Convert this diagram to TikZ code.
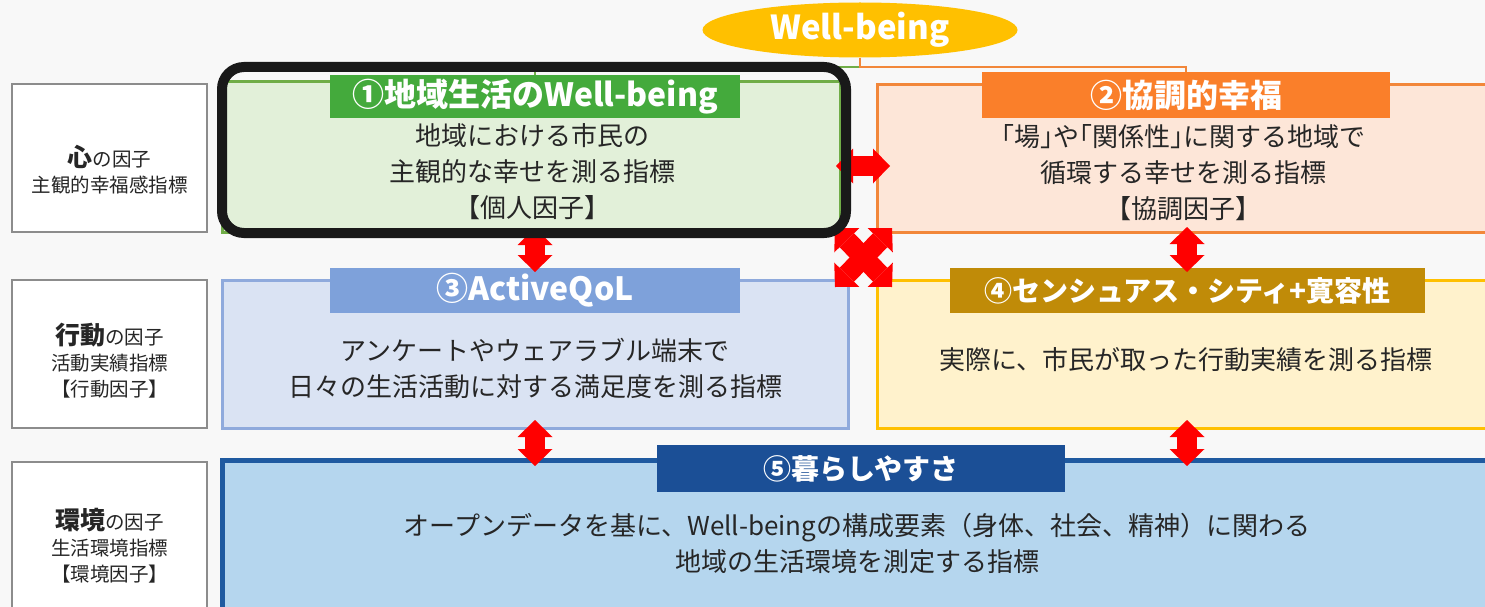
\documentclass[tikz,border=0pt]{standalone}
\usepackage{fontspec}
\setmainfont{Noto Sans CJK JP}
\usetikzlibrary{arrows.meta,shapes.geometric,calc}
\definecolor{bgc}{HTML}{F8F8F8}
\definecolor{grnH}{HTML}{44AA3C}
\definecolor{grnB}{HTML}{70AD47}
\definecolor{grnF}{HTML}{E2F0D9}
\definecolor{orgH}{HTML}{FA7F2A}
\definecolor{orgB}{HTML}{F2873A}
\definecolor{orgF}{HTML}{FDE6D8}
\definecolor{bluH}{HTML}{7EA1DA}
\definecolor{bluB}{HTML}{8FAADC}
\definecolor{bluF}{HTML}{DAE3F3}
\definecolor{yelH}{HTML}{C08B08}
\definecolor{yelB}{HTML}{FFC000}
\definecolor{yelF}{HTML}{FFF2CC}
\definecolor{navH}{HTML}{1B4F96}
\definecolor{navB}{HTML}{1F5AA0}
\definecolor{navF}{HTML}{B5D6EE}
\definecolor{labB}{HTML}{8C8C8C}
\definecolor{txt}{HTML}{262626}
\definecolor{arr}{HTML}{FF0000}
\newcommand\hb[1]{{\addfontfeatures{RawFeature=+halt}#1}}
\begin{document}
\begin{tikzpicture}[x=1pt,y=-1pt,
  panel/.style={rectangle,inner sep=0pt,line width=3pt},
  labbox/.style={rectangle,inner sep=0pt,draw=labB,line width=2.5pt,fill=white,minimum width=195pt},
  hdr/.style={rectangle,inner sep=0pt,text=white,font=\bfseries\fontsize{32}{36}\selectfont},
  hdrs/.style={hdr,font=\bfseries\fontsize{28}{36}\selectfont},
  body/.style={align=center,text=txt,font=\fontsize{26}{36}\selectfont,inner sep=0pt},
  lab/.style={align=center,text=txt,font=\fontsize{19.5}{26}\selectfont,inner sep=0pt},
  blk/.style={draw=arr,line width=20pt,
    {Triangle[width=35pt,length=17pt,line width=0pt]}-{Triangle[width=35pt,length=17pt,line width=0pt]}},
  link/.style={line width=2pt}
]
\clip (0,0) rectangle (1485,607);
\fill[bgc] (0,0) rectangle (1485,607);

% left label boxes
\node[labbox,minimum height=148pt] (l1) at (109.5,158) {};
\node[labbox,minimum height=148pt] (l2) at (109.5,354) {};
\node[labbox,minimum height=166pt] (l3) at (109.5,545) {};

% main panels
\node[panel,draw=grnB,fill=grnF,minimum width=618pt,minimum height=150pt] (b1) at (531,157) {};
\node[panel,draw=orgB,fill=orgF,minimum width=628pt,minimum height=147pt] (b2) at (1191,158.5) {};
\node[panel,draw=bluB,fill=bluF,minimum width=626pt,minimum height=148pt] (b3) at (535,354) {};
\node[panel,draw=yelB,fill=yelF,minimum width=628pt,minimum height=148pt] (b4) at (1191,354) {};
\node[panel,draw=navB,fill=navF,line width=5pt,minimum width=1283pt,minimum height=165pt] (b5) at (863.5,542.5) {};

% headers
\node[hdr,fill=grnH,minimum width=410pt,minimum height=43pt] (h1) at (535,96.5) {①地域生活のWell-being};
\node[hdr,fill=orgH,minimum width=408pt,minimum height=46pt] (h2) at (1186,95) {②協調的幸福};
\node[hdr,fill=bluH,minimum width=410pt,minimum height=45pt] (h3) at (535,290.5) {③ActiveQoL};
\node[hdrs,fill=yelH,minimum width=475pt,minimum height=45pt] (h4) at (1187.5,290.5) {④センシュアス・シティ+寛容性};
\node[hdrs,fill=navH,minimum width=408pt,minimum height=47pt] (h5) at (861,468.5) {⑤暮らしやすさ};

% Well-being ellipse and its links
\node[ellipse,fill=yelB,inner sep=0pt,minimum width=315pt,minimum height=55pt,
      text=white,font=\bfseries\fontsize{33}{34}\selectfont] (wb) at (860,30) {Well-being};
\coordinate (wbj) at (860,67);
\draw[link,draw=grnB] (wbj) -| (h1.north);
\draw[link,draw=orgB] (wb.south) -- (wbj) -| (h2.north);

% red block arrows
\coordinate (a13s) at (535,228);  \coordinate (a13e) at (535,272);
\coordinate (a35s) at (535,420);  \coordinate (a35e) at (535,466);
\coordinate (a24s) at (1187,227); \coordinate (a24e) at (1187,272);
\coordinate (a45s) at (1187,420); \coordinate (a45e) at (1187,466);
\coordinate (a12s) at (836,166);  \coordinate (a12e) at (890,166);
\coordinate (x1s) at (835,228);   \coordinate (x1e) at (892,287);
\coordinate (x2s) at (892,228);   \coordinate (x2e) at (835,287);
\draw[blk] (a13s) -- (a13e);
\draw[blk] (a35s) -- (a35e);
\draw[blk] (a24s) -- (a24e);
\draw[blk] (a45s) -- (a45e);
\draw[blk] (a12s) -- (a12e);
\draw[blk] (x1s) -- (x1e);
\draw[blk] (x2s) -- (x2e);

% highlight frame
\node[draw=black!90,line width=10pt,rounded corners=22pt,inner sep=0pt,
      minimum width=624pt,minimum height=166pt] (focus) at (534,150) {};

% body texts
\node[body] (t1) at (532,172) {地域における市民の\\主観的な幸せを測る指標\\【個人因子】};
\node[body] (t2) at (1183,173) {\hb{「}場\hb{」}や\hb{「}関係性\hb{」}に関する地域で\\循環する幸せを測る指標\\【協調因子】};
\node[body] (t3) at (535,368) {アンケートやウェアラブル端末で\\日々の生活活動に対する満足度を測る指標};
\node[body] (t4) at (1186,360) {実際に、市民が取った行動実績を測る指標};
\node[body] (t5) at (857,543) {オープンデータを基に、Well-beingの構成要素（身体、社会、精神）に関わる\\地域の生活環境を測定する指標};

% left label texts
\node[lab] (lt1) at (109.5,170) {{\bfseries\fontsize{25}{26}\selectfont 心}の因子\\主観的幸福感指標};
\node[lab] (lt2) at (109.5,361) {{\bfseries\fontsize{25}{26}\selectfont 行動}の因子\\活動実績指標\\【行動因子】};
\node[lab] (lt3) at (109.5,546) {{\bfseries\fontsize{25}{26}\selectfont 環境}の因子\\生活環境指標\\【環境因子】};
\end{tikzpicture}
\end{document}
